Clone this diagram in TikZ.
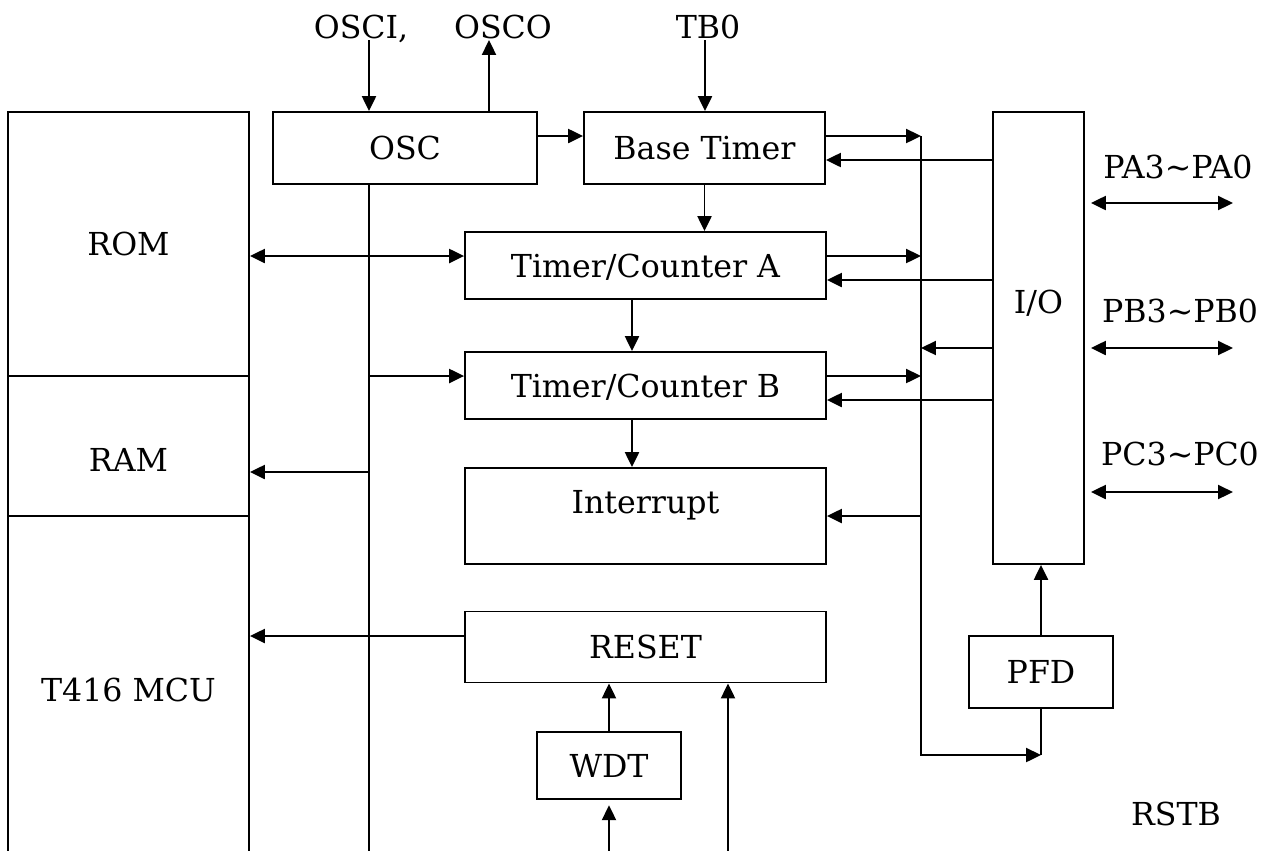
\documentclass[tikz,border=0pt]{standalone}
\usepackage{fontspec}
\setmainfont{DejaVu Serif}
\usetikzlibrary{arrows.meta}

\begin{document}
\begin{tikzpicture}[x=0.02cm, y=-0.02cm, line width=1.1pt,
    font=\fontsize{18pt}{21pt}\selectfont,
    >={Triangle[length=8.5pt,width=8pt]},
    blk/.style={draw, inner sep=0pt, text height=13.1pt, text depth=0pt},
    sig/.style={anchor=base}]
    \useasboundingbox (0,0) rectangle (1264,850);
    \clip (0,0) rectangle (1264,850);

    % memory column, cut off at the bottom
    \node[blk, minimum width=4.82cm, minimum height=5.28cm] (rom) at (128.5,244) {ROM};
    \node[blk, minimum width=4.82cm, minimum height=2.8cm, text height=29pt] (ram) at (128.5,446) {RAM};
    \node[blk, minimum width=4.82cm, minimum height=6.96cm] (mcu) at (128.5,690) {T416 MCU};

    \node[blk, minimum width=5.28cm, minimum height=1.44cm] (osc) at (405,148) {OSC};
    \node[blk, minimum width=4.82cm, minimum height=1.44cm] (base) at (704.5,148) {Base Timer};
    \node[blk, minimum width=7.22cm, minimum height=1.34cm] (tca) at (645.5,265.5) {Timer/Counter A};
    \node[blk, minimum width=7.22cm, minimum height=1.34cm] (tcb) at (645.5,385.5) {Timer/Counter B};
    \node[blk, minimum width=7.22cm, minimum height=1.92cm, text depth=16pt] (intr) at (645.5,516) {Interrupt};
    \node[blk, minimum width=7.22cm, minimum height=1.42cm] (reset) at (645.5,647) {RESET};
    \node[blk, minimum width=2.88cm, minimum height=1.34cm] (wdt) at (609,765.5) {WDT};
    \node[blk, minimum width=1.82cm, minimum height=9.04cm, text depth=41pt] (io) at (1038.5,338) {I/O};
    \node[blk, minimum width=2.88cm, minimum height=1.44cm] (pfd) at (1041,672) {PFD};

    \node[sig] (osci) at (361,38) {OSCI,};
    \node[sig] (osco) at (503,38) {OSCO};
    \node[sig] (tb0) at (708,38) {TB0};
    \node[sig] (pa) at (1178,178) {PA3\textasciitilde PA0};
    \node[sig] (pb) at (1180,322) {PB3\textasciitilde PB0};
    \node[sig] (pc) at (1180,465) {PC3\textasciitilde PC0};
    \node[sig] (rstb) at (1176,825) {RSTB};

    \coordinate (clkin) at (369,40);
    \coordinate (clkout) at (489,40);
    \coordinate (tbin) at (705,40);
    \coordinate (clkend) at (369,860);
    \coordinate (wdtin) at (609,860);
    \coordinate (rstin) at (728,860);
    \coordinate (bustop) at (921,136);
    \coordinate (busbot) at (921,755);

    % clock
    \draw[->] (clkin) -- (clkin |- osc.north);
    \draw[->] (clkout |- osc.north) -- (clkout);
    \draw[->] (tbin) -- (tbin |- base.north);
    \draw[->] (osc.east |- 0,136) -- (base.west |- 0,136);
    \draw (clkin |- osc.south) -- (clkend);
    \draw[->] (clkin |- 0,376) -- (tcb.west |- 0,376);
    \draw[->] (clkin |- 0,472) -- (ram.east |- 0,472);
    \draw[<->] (rom.east |- 0,256) -- (tca.west |- 0,256);

    % timers
    \draw[->] (base.south) -- (base.south |- tca.north);
    \draw[->] (tca.south -| 632,0) -- (tcb.north -| 632,0);
    \draw[->] (tcb.south -| 632,0) -- (intr.north -| 632,0);

    % reset
    \draw[->] (reset.west |- 0,636) -- (mcu.east |- 0,636);
    \draw[->] (wdt.north) -- (wdt.north |- reset.south);
    \draw[->, shorten >=3pt] (wdtin) -- (wdt.south);
    \draw[->] (rstin) -- (rstin |- reset.south);

    % bus to the I/O side
    \draw[->] (bustop) -- (busbot) -- (busbot -| pfd.south);
    \draw (pfd.south) -- (busbot -| pfd.south);
    \draw[->] (pfd.north) -- (pfd.north |- io.south);
    \draw[->] (base.east |- 0,136) -- (bustop);
    \draw[->] (io.west |- 0,160) -- (base.east |- 0,160);
    \draw[->] (tca.east |- 0,256) -- (bustop |- 0,256);
    \draw[->] (io.west |- 0,280) -- (tca.east |- 0,280);
    \draw[->] (io.west |- 0,348) -- (bustop |- 0,348);
    \draw[->] (tcb.east |- 0,376) -- (bustop |- 0,376);
    \draw[->] (io.west |- 0,400) -- (tcb.east |- 0,400);
    \draw[->] (bustop |- intr.east) -- (intr.east);

    % ports
    \foreach \y in {203,348,492}
      \draw[<->, shorten <=3.4pt] (io.east |- 0,\y) -- ++(148,0);
\end{tikzpicture}
\end{document}
